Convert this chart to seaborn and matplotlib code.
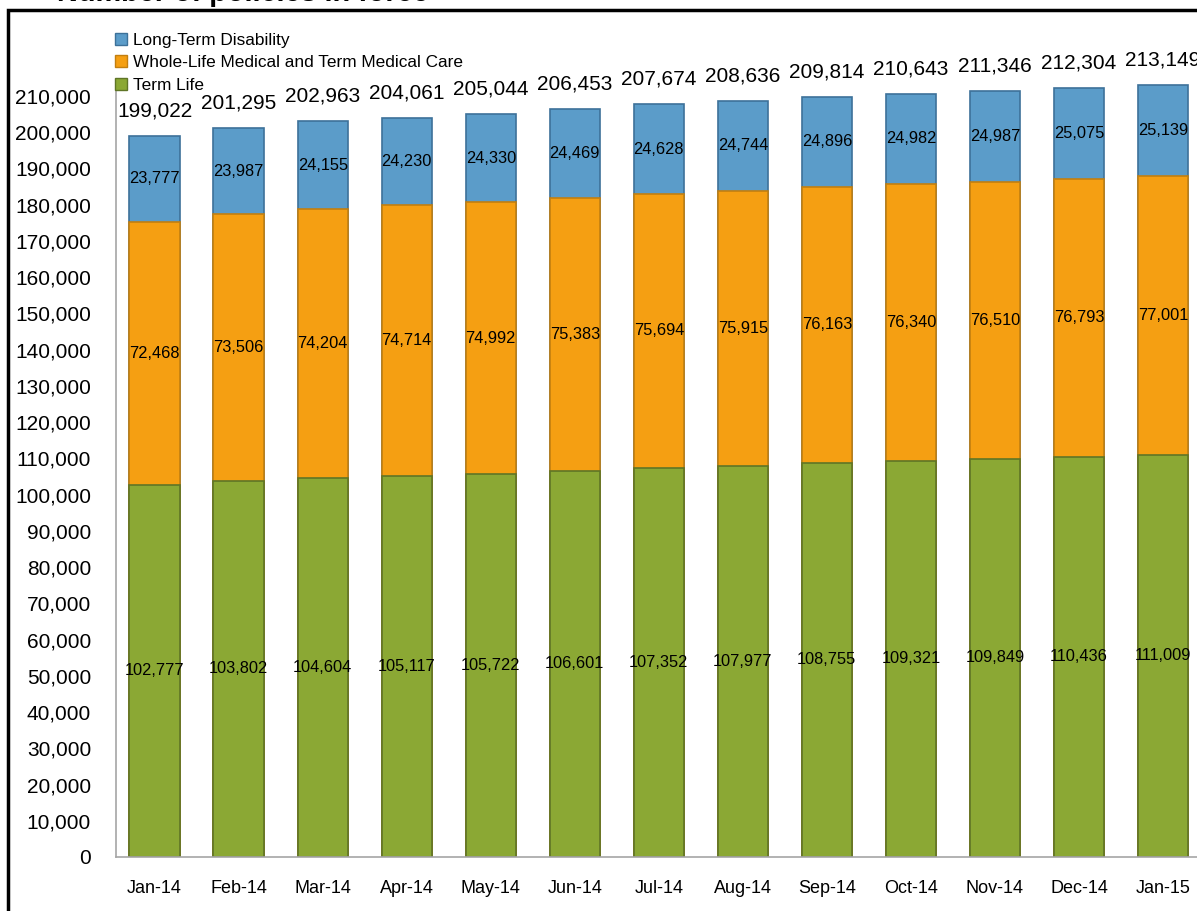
import numpy as np
import pandas as pd
import matplotlib
matplotlib.use("Agg")
import matplotlib.pyplot as plt
import matplotlib.patches as mpatches
import seaborn as sns

months = ['Jan-14', 'Feb-14', 'Mar-14', 'Apr-14', 'May-14', 'Jun-14', 'Jul-14',
          'Aug-14', 'Sep-14', 'Oct-14', 'Nov-14', 'Dec-14', 'Jan-15']
term_life = [102777, 103802, 104604, 105117, 105722, 106601, 107352,
             107977, 108755, 109321, 109849, 110436, 111009]
whole_life = [72468, 73506, 74204, 74714, 74992, 75383, 75694,
              75915, 76163, 76340, 76510, 76793, 77001]
ltd = [23777, 23987, 24155, 24230, 24330, 24469, 24628,
       24744, 24896, 24982, 24987, 25075, 25139]
y_ticks = list(range(0, 210001, 10000))

df = pd.DataFrame({'Month': months, 'Term Life': term_life,
                   'Whole-Life': whole_life, 'LTD': ltd})
df['TL_WL'] = df['Term Life'] + df['Whole-Life']
df['Total'] = df['TL_WL'] + df['LTD']

sns.set_theme(style="white")
plt.rcParams['font.family'] = ['Liberation Sans', 'DejaVu Sans']
plt.rcParams['text.color'] = 'black'
plt.rcParams['xtick.color'] = 'black'
plt.rcParams['ytick.color'] = 'black'

c_ltd, e_ltd = '#5B9CC9', '#3D7199'
c_wl, e_wl = '#F59F12', '#C27F10'
c_tl, e_tl = '#8BA834', '#5F7526'

fig = plt.figure(figsize=(11.97, 9.11), dpi=100)
ax = fig.add_axes([116 / 1197, 1 - 857 / 911, 1089 / 1197, (857 - 81.5) / 911])

# stacked bars via overlapping cumulative totals
sns.barplot(data=df, x='Month', y='Total', color=c_ltd, edgecolor=e_ltd,
            linewidth=1.2, width=0.6, saturation=1, ax=ax)
sns.barplot(data=df, x='Month', y='TL_WL', color=c_wl, edgecolor=e_wl,
            linewidth=1.2, width=0.6, saturation=1, ax=ax)
sns.barplot(data=df, x='Month', y='Term Life', color=c_tl, edgecolor=e_tl,
            linewidth=1.2, width=0.6, saturation=1, ax=ax)

ax.set_xlim(-0.46, 12.5)
ax.set_ylim(0, 214000)
ax.set_yticks(y_ticks)
ax.set_yticklabels([f'{v:,}' for v in y_ticks], fontsize=15)
ax.tick_params(axis='x', labelsize=13, pad=16.5, length=0)
ax.tick_params(axis='y', pad=18, length=0)
ax.set_xlabel('')
ax.set_ylabel('')
for side in ['top', 'right']:
    ax.spines[side].set_visible(False)
for side in ['left', 'bottom']:
    ax.spines[side].set_color('#A6A6A6')
    ax.spines[side].set_linewidth(1.2)

# labels
for i, row in df.iterrows():
    ax.text(i, row['Term Life'] / 2, f"{row['Term Life']:,}", ha='center', va='center', fontsize=11.8)
    ax.text(i, row['Term Life'] + row['Whole-Life'] / 2, f"{row['Whole-Life']:,}",
            ha='center', va='center', fontsize=11.8)
    ax.text(i, row['TL_WL'] + row['LTD'] / 2, f"{row['LTD']:,}", ha='center', va='center', fontsize=11.8)
    ax.annotate(f"{row['Total']:,}", (i, row['Total']), xytext=(0, 18), textcoords='offset points',
                ha='center', va='center', fontsize=15, annotation_clip=False)

handles = [mpatches.Patch(facecolor=c_ltd, edgecolor=e_ltd, label='Long-Term Disability'),
           mpatches.Patch(facecolor=c_wl, edgecolor=e_wl, label='Whole-Life Medical and Term Medical Care'),
           mpatches.Patch(facecolor=c_tl, edgecolor=e_tl, label='Term Life')]
fig.legend(handles=handles, loc='upper left', bbox_to_anchor=(115 / 1197, 1 - 33 / 911),
           frameon=False, fontsize=12.4, borderpad=0, labelspacing=0.42,
           handlelength=0.7, handleheight=0.7, handletextpad=0.35, borderaxespad=0)

# outer frame and cropped title
fig.patches.append(mpatches.Rectangle((8 / 1197, -0.05), 1.1, 1 - 10 / 911 + 0.05,
                                      transform=fig.transFigure, fill=False,
                                      edgecolor='black', linewidth=2.5))
fig.text(57 / 1197, 1 - 1 / 911, 'Number of policies in force', fontsize=20.8,
         fontweight='bold', ha='left', va='baseline')

fig.savefig('out.png', dpi=100)
